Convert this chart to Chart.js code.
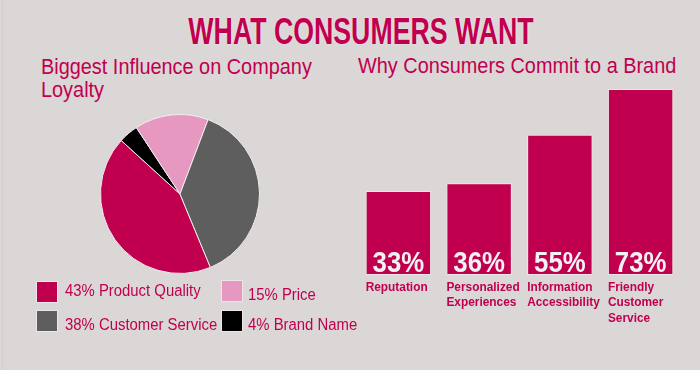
<!DOCTYPE html>
<html>
<head>
<meta charset="utf-8">
<script src="https://cdn.jsdelivr.net/npm/chart.js@4/dist/chart.umd.min.js"></script>
<style>
  html, body { margin: 0; padding: 0; }
  #page { position: relative; width: 700px; height: 370px; background: #dcd7d7; overflow: hidden; font-family: "Liberation Sans", Arial, sans-serif; color: #c0004f; }
  #page:before { content: ""; position: absolute; left: 2px; top: 0; width: 1px; height: 370px; background: rgba(0,0,0,0.04); }
  .abs { position: absolute; white-space: nowrap; }
  #title { left: 361px; top: 13.6px; font-family: "Liberation Sans", sans-serif; font-weight: bold; font-size: 36px; line-height: 36px; transform: translateX(-50%) scaleX(0.742); transform-origin: center; text-shadow: 0 0 2px rgba(255,255,255,0.7); }
  .sub { font-size: 21.5px; line-height: 22.7px; transform: scaleX(0.925); transform-origin: left top; }
  .sw { position: absolute; width: 20px; height: 20px; border: 1px solid #ece6e8; box-sizing: content-box; }
  .lt { position: absolute; white-space: nowrap; font-size: 16px; line-height: 16px; transform: scaleX(0.93); transform-origin: left top; }
  canvas { position: absolute; }
</style>
</head>
<body>
<div id="page">
  <div id="title" class="abs">WHAT CONSUMERS WANT</div>
  <div class="abs sub" style="left:40.7px; top:56.2px;">Biggest Influence on Company<br>Loyalty</div>
  <div class="abs sub" style="left:358.3px; top:54.7px;">Why Consumers Commit to a Brand</div>
  <canvas id="pie" width="180" height="180" style="left:90px; top:104px;"></canvas>
  <div id="legend"></div>
  <canvas id="bar" width="340" height="260" style="left:350px; top:80px;"></canvas>
</div>
<script>
// ---- Pie data (legend order) ----
const pieLabels = ['Product Quality', 'Price', 'Customer Service', 'Brand Name'];
const pieValues = [43, 15, 38, 4];
const pieColors = ['#c0004f', '#e698c0', '#5e5e5e', '#000000'];
// clockwise drawing order starting at Product Quality
const pieDrawOrder = [0, 3, 1, 2];

// ---- Bar data ----
const barCategories = [['Reputation'], ['Personalized', 'Experiences'], ['Information', 'Accessibility'], ['Friendly', 'Customer', 'Service']];
const barValues = [33, 36, 55, 73];
const barColor = '#c0004f';

// ---- Legend (HTML) ----
const legendPos = [
  { sx: 36, sy: 280.5, tx: 65, ty: 283.2 },
  { sx: 221, sy: 279.5, tx: 248.3, ty: 286.5 },
  { sx: 36, sy: 309.5, tx: 65, ty: 317 },
  { sx: 221, sy: 309.5, tx: 248.3, ty: 317 }
];
const legend = document.getElementById('legend');
pieLabels.forEach((lab, i) => {
  const p = legendPos[i];
  const sw = document.createElement('div');
  sw.className = 'sw';
  sw.style.left = p.sx + 'px'; sw.style.top = p.sy + 'px';
  sw.style.background = pieColors[i];
  legend.appendChild(sw);
  const t = document.createElement('div');
  t.className = 'lt';
  t.style.left = p.tx + 'px'; t.style.top = p.ty + 'px';
  t.textContent = pieValues[i] + '% ' + lab;
  legend.appendChild(t);
});

// ---- Pie chart ----
new Chart(document.getElementById('pie'), {
  type: 'pie',
  data: {
    labels: pieDrawOrder.map(i => pieLabels[i]),
    datasets: [{
      data: pieDrawOrder.map(i => pieValues[i]),
      backgroundColor: pieDrawOrder.map(i => pieColors[i]),
      borderColor: '#f1ecee',
      borderWidth: 1
    }]
  },
  options: {
    responsive: false,
    animation: false,
    rotation: 157.5,
    radius: 79.5,
    layout: { padding: 0 },
    plugins: { legend: { display: false }, tooltip: { enabled: false } }
  }
});

// ---- Bar chart ----
const barLabelPlugin = {
  id: 'barLabels',
  afterDatasetsDraw(chart) {
    const ctx = chart.ctx;
    const meta = chart.getDatasetMeta(0);
    const area = chart.chartArea;
    meta.data.forEach((bar, i) => {
      // percentage inside bar (condensed)
      ctx.save();
      ctx.fillStyle = '#f3f1f2';
      ctx.font = 'bold 29px "Liberation Sans", sans-serif';
      ctx.textAlign = 'center';
      ctx.textBaseline = 'alphabetic';
      ctx.translate(bar.x, bar.base - 3.5);
      ctx.scale(0.89, 1);
      ctx.fillText(barValues[i] + '%', 0, 0);
      ctx.restore();
      // category label below bar, left aligned at bar edge
      ctx.save();
      ctx.fillStyle = barColor;
      ctx.font = 'bold 12.5px "Liberation Sans", sans-serif';
      ctx.textAlign = 'left';
      const left = bar.x - bar.width / 2;
      barCategories[i].forEach((line, j) => {
        ctx.save();
        ctx.translate(left, area.bottom + 15.7 + j * 15.5);
        ctx.scale(0.95, 1);
        ctx.fillText(line, 0, 0);
        ctx.restore();
      });
      ctx.restore();
    });
  }
};

new Chart(document.getElementById('bar'), {
  type: 'bar',
  data: {
    labels: barCategories.map(c => c.join(' ')),
    datasets: [{
      data: barValues,
      backgroundColor: barColor,
      borderColor: '#ece6e8',
      borderWidth: 1,
      borderSkipped: false,
      barPercentage: 0.81,
      categoryPercentage: 1
    }]
  },
  options: {
    responsive: false,
    animation: false,
    layout: { padding: { left: 8, right: 9, top: 9, bottom: 65 } },
    scales: {
      x: { display: false },
      y: { display: false, min: 0, max: 73 }
    },
    plugins: { legend: { display: false }, tooltip: { enabled: false } }
  },
  plugins: [barLabelPlugin]
});
</script>
</body>
</html>
